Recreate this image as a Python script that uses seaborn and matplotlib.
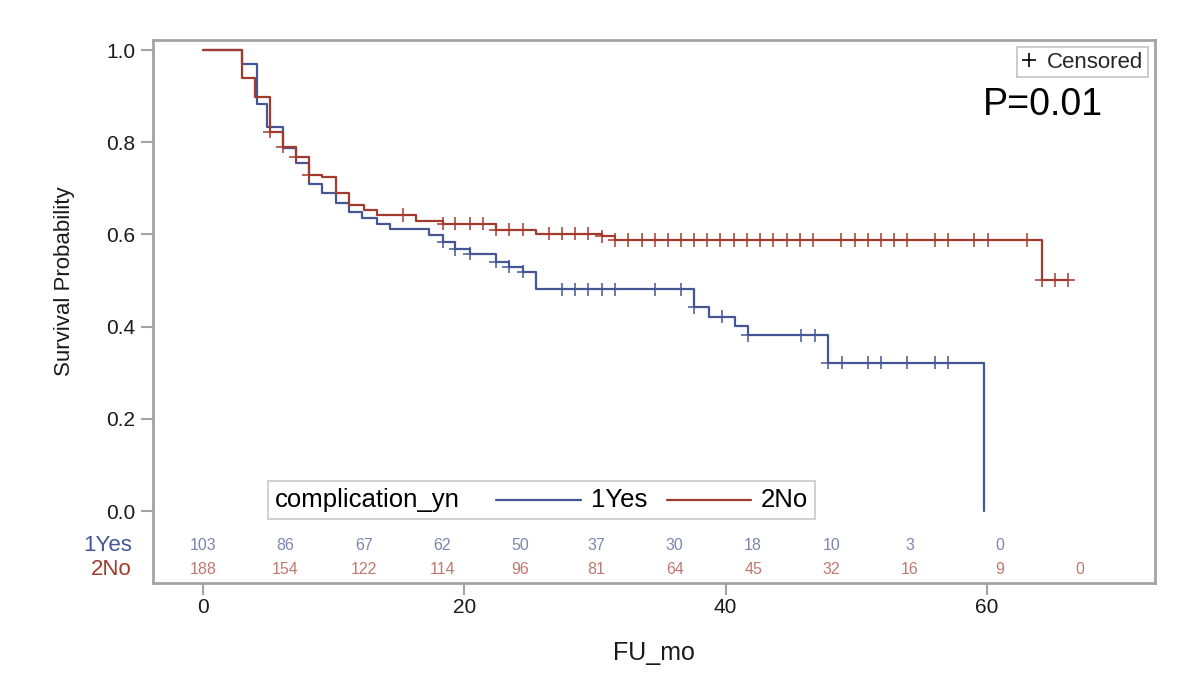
import numpy as np
import pandas as pd
import matplotlib
matplotlib.use("Agg")
import matplotlib.pyplot as plt
import matplotlib.transforms as mtransforms
import seaborn as sns
from matplotlib.lines import Line2D
from matplotlib.offsetbox import AnchoredOffsetbox, HPacker, TextArea, DrawingArea

# ---------------- data ----------------
group_labels = ["1Yes", "2No"]

yes_times = [0, 3.0, 4.1, 4.9, 6.1, 7.1, 8.1, 9.1, 10.2, 11.2, 12.2, 13.3, 14.3,
             17.3, 18.4, 19.3, 20.4, 22.4, 23.4, 24.5, 25.5, 37.6, 38.7, 40.7,
             41.7, 47.8, 59.8]
yes_surv = [1.0, 0.969, 0.882, 0.834, 0.787, 0.755, 0.710, 0.689, 0.669, 0.649,
            0.635, 0.623, 0.611, 0.599, 0.584, 0.568, 0.558, 0.541, 0.530, 0.519,
            0.481, 0.442, 0.422, 0.401, 0.381, 0.322, 0.0]
yes_censor = [18.4, 19.3, 20.4, 22.4, 23.4, 24.5, 27.5, 28.5, 29.5, 30.5, 31.5,
              34.6, 36.6, 37.6, 39.7, 41.7, 45.8, 46.8, 47.8, 48.9, 50.9, 51.9,
              53.9, 56.0, 57.0]

no_times = [0, 3.0, 4.0, 5.1, 6.1, 7.1, 8.1, 9.1, 10.2, 11.2, 12.3, 13.3, 16.3,
            18.4, 22.4, 25.5, 30.5, 31.5, 64.2]
no_surv = [1.0, 0.940, 0.897, 0.823, 0.790, 0.769, 0.729, 0.724, 0.690, 0.664,
           0.653, 0.642, 0.630, 0.623, 0.610, 0.602, 0.596, 0.588, 0.501]
no_censor = [5.1, 6.1, 7.1, 8.1, 15.3, 18.4, 19.3, 20.4, 21.4, 22.4, 23.4, 24.5,
             26.5, 27.5, 28.5, 29.5, 30.5, 31.5, 32.5, 33.6, 34.6, 35.6, 36.6,
             37.6, 38.6, 39.6, 40.6, 41.6, 42.6, 43.6, 44.7, 45.7, 46.7, 48.8,
             49.9, 50.9, 51.9, 52.9, 53.9, 56.0, 57.0, 59.0, 60.1, 63.1, 64.2,
             65.2, 66.2]

# x positions of the number-at-risk columns
risk_times = [0, 6.3, 12.3, 18.3, 24.3, 30.1, 36.1, 42.1, 48.1, 54.1, 61.0, 67.1]
yes_at_risk = [103, 86, 67, 62, 50, 37, 30, 18, 10, 3, 0]
no_at_risk = [188, 154, 122, 114, 96, 81, 64, 45, 32, 16, 9, 0]

x_ticks = [0, 20, 40, 60]
y_ticks = [0.0, 0.2, 0.4, 0.6, 0.8, 1.0]
p_text = "P=0.01"
legend_title = "complication_yn"

# ---------------- styling ----------------
BLUE = "#445694"
RED = "#A23A2E"
BLUE_LIGHT = "#7D86B0"
RED_LIGHT = "#C07870"
FRAME = "#A3A3A3"

sns.set_theme(style="white")
plt.rcParams["font.family"] = ["Liberation Sans", "DejaVu Sans"]


def curve_frame(times, surv, censor, label):
    t = list(times)
    s = list(surv)
    last_c = max(censor) if censor else t[-1]
    if last_c > t[-1]:
        t.append(last_c)
        s.append(s[-1])
    return pd.DataFrame({"time": t, "surv": s, "group": label})


def censor_frame(times, surv, censor, label):
    idx = np.searchsorted(np.asarray(times), np.asarray(censor), side="right") - 1
    return pd.DataFrame({"time": censor,
                         "surv": np.asarray(surv)[idx],
                         "group": label})


curves = pd.concat([curve_frame(yes_times, yes_surv, yes_censor, group_labels[0]),
                    curve_frame(no_times, no_surv, no_censor, group_labels[1])],
                   ignore_index=True)
cens = pd.concat([censor_frame(yes_times, yes_surv, yes_censor, group_labels[0]),
                  censor_frame(no_times, no_surv, no_censor, group_labels[1])],
                 ignore_index=True)
palette = {group_labels[0]: BLUE, group_labels[1]: RED}

fig = plt.figure(figsize=(12, 6.84), dpi=100)
ax = fig.add_axes([153 / 1200, 1 - 583 / 684, (1155 - 153) / 1200, (583 - 40) / 684])

sns.lineplot(data=curves, x="time", y="surv", hue="group", palette=palette,
             estimator=None, sort=False, drawstyle="steps-post", lw=1.6,
             legend=False, ax=ax)
sns.scatterplot(data=cens, x="time", y="surv", hue="group", palette=palette,
                marker="+", s=90, linewidth=1.1, legend=False, ax=ax, zorder=3)

ax.set_xlim(-3.83, 72.86)
ax.set_ylim(-0.156, 1.0217)
ax.set_xticks(x_ticks)
ax.set_yticks(y_ticks)
ax.set_yticklabels([f"{v:.1f}" for v in y_ticks])

for sp in ax.spines.values():
    sp.set_color(FRAME)
    sp.set_linewidth(2.0)
ax.tick_params(axis="both", direction="out", length=8.6, width=1.5, color=FRAME,
               labelsize=15, labelcolor="#1a1a1a", left=True, bottom=True)
ax.tick_params(axis="y", pad=4.3)
ax.tick_params(axis="x", pad=2.5)

ax.set_xlabel("FU_mo", fontsize=18, color="#1a1a1a", labelpad=17)
ax.set_ylabel("Survival Probability", fontsize=16, color="#1a1a1a")
ax.yaxis.set_label_coords(-0.078, 0.556)

# ---------------- number at risk table ----------------
y_yes, y_no = -0.074, -0.126
for t, n in zip(risk_times, yes_at_risk):
    ax.text(t, y_yes, str(n), ha="center", va="center", fontsize=11.5, color=BLUE_LIGHT)
for t, n in zip(risk_times, no_at_risk):
    ax.text(t, y_no, str(n), ha="center", va="center", fontsize=11.5, color=RED_LIGHT)
blend = mtransforms.blended_transform_factory(ax.transAxes, ax.transData)
ax.text(-0.021, y_yes, group_labels[0], transform=blend, ha="right", va="center",
        fontsize=16, color=BLUE)
ax.text(-0.021, y_no, group_labels[1], transform=blend, ha="right", va="center",
        fontsize=16, color=RED)

# ---------------- P value ----------------
ax.text(0.888, 0.88, p_text, transform=ax.transAxes, ha="center", va="center",
        fontsize=27, color="black")

# ---------------- censored legend ----------------
cens_handle = Line2D([], [], marker="+", linestyle="none", color="black",
                     markersize=10, markeredgewidth=1.2)
leg = ax.legend([cens_handle], ["Censored"], loc="upper right", fontsize=16,
                frameon=True, fancybox=False, edgecolor="#C8C8C8", framealpha=1,
                handlelength=0.7, handletextpad=0.45, borderpad=0.22,
                borderaxespad=0.3)
leg.get_frame().set_linewidth(1.2)
ax.add_artist(leg)

# ---------------- group legend (inline title) ----------------
tp = dict(fontsize=18.5, color="black")


def line_area(color):
    da = DrawingArea(61, 10, 0, 0)
    da.add_artist(Line2D([0, 61], [5, 5], color=color, lw=1.6))
    return da


def spacer(w):
    return DrawingArea(w, 1, 0, 0)


box = HPacker(children=[TextArea(legend_title, textprops=tp), spacer(26),
                        line_area(BLUE), spacer(7), TextArea(group_labels[0], textprops=tp),
                        spacer(14), line_area(RED), spacer(7),
                        TextArea(group_labels[1], textprops=tp)],
              align="center", pad=0, sep=0)
anch = AnchoredOffsetbox(loc="center", child=box, pad=0.35, frameon=True,
                         bbox_to_anchor=(0.388, 0.153), bbox_transform=ax.transAxes,
                         borderpad=0, prop=dict(size=14))
anch.patch.set_boxstyle("square", pad=0)
anch.patch.set_edgecolor("#C8C8C8")
anch.patch.set_linewidth(1.2)
ax.add_artist(anch)

fig.savefig("out.png", dpi=100, facecolor="white")
